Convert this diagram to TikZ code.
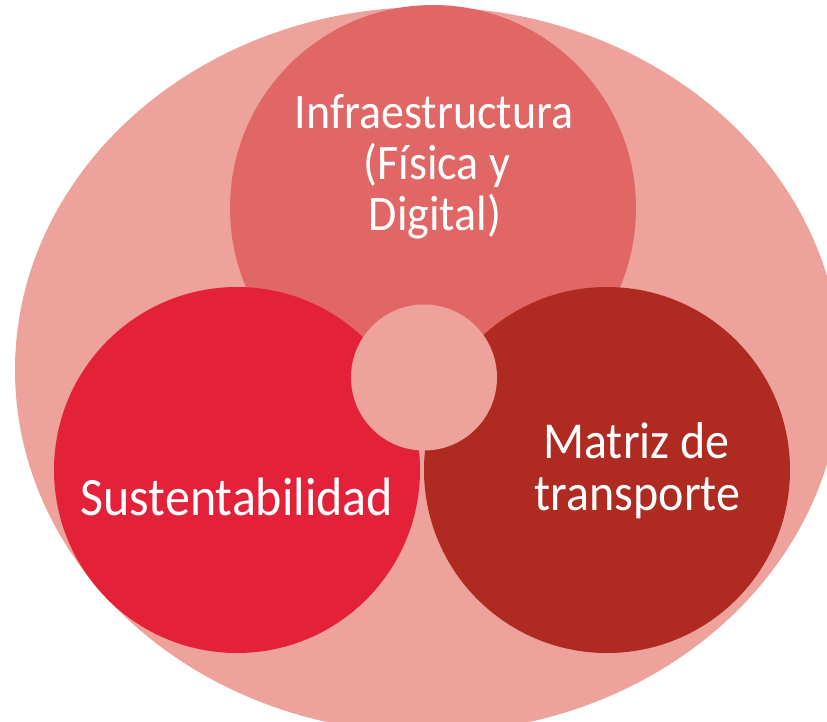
\documentclass[tikz,border=0pt]{standalone}
\usepackage{fontspec}
\setmainfont{Carlito}
\definecolor{bgpink}{HTML}{EDA29B}
\definecolor{toppink}{HTML}{E06766}
\definecolor{leftred}{HTML}{E3223A}
\definecolor{rightred}{HTML}{AF2A21}
\tikzset{
  disc/.style={circle, inner sep=0pt, draw=none},
  lbl/.style={text=white, anchor=base, inner sep=0pt, yscale=1.08, transform shape}
}
\begin{document}
\begin{tikzpicture}[x=1pt,y=-1pt]
\useasboundingbox (0,0) rectangle (827,721);
\fill[bgpink] (428,370) ellipse [x radius=413pt, y radius=363pt];
\node[disc, fill=toppink, minimum size=406pt] (top) at (433,208) {};
\node[disc, fill=leftred, minimum size=366pt] (left) at (237,470) {};
\node[disc, fill=rightred, minimum size=366pt] (right) at (607,470) {};
\node[disc, fill=bgpink, minimum size=146pt] (mid) at (424,377.5) {};
\node[lbl, font=\fontsize{46}{50}\selectfont] (inf1) at (434,128) {Infraestructura};
\node[lbl, font=\fontsize{46}{50}\selectfont] (inf2) at (437,179) {(Física y};
\node[lbl, font=\fontsize{46}{50}\selectfont] (inf3) at (435,230) {Digital)};
\node[lbl, font=\fontsize{50}{54}\selectfont] (sus) at (237,515) {Sustentabilidad};
\node[lbl, font=\fontsize{48}{52}\selectfont] (mat1) at (636.5,458) {Matriz de};
\node[lbl, font=\fontsize{48}{52}\selectfont] (mat2) at (637.5,510) {transporte};
\end{tikzpicture}
\end{document}
